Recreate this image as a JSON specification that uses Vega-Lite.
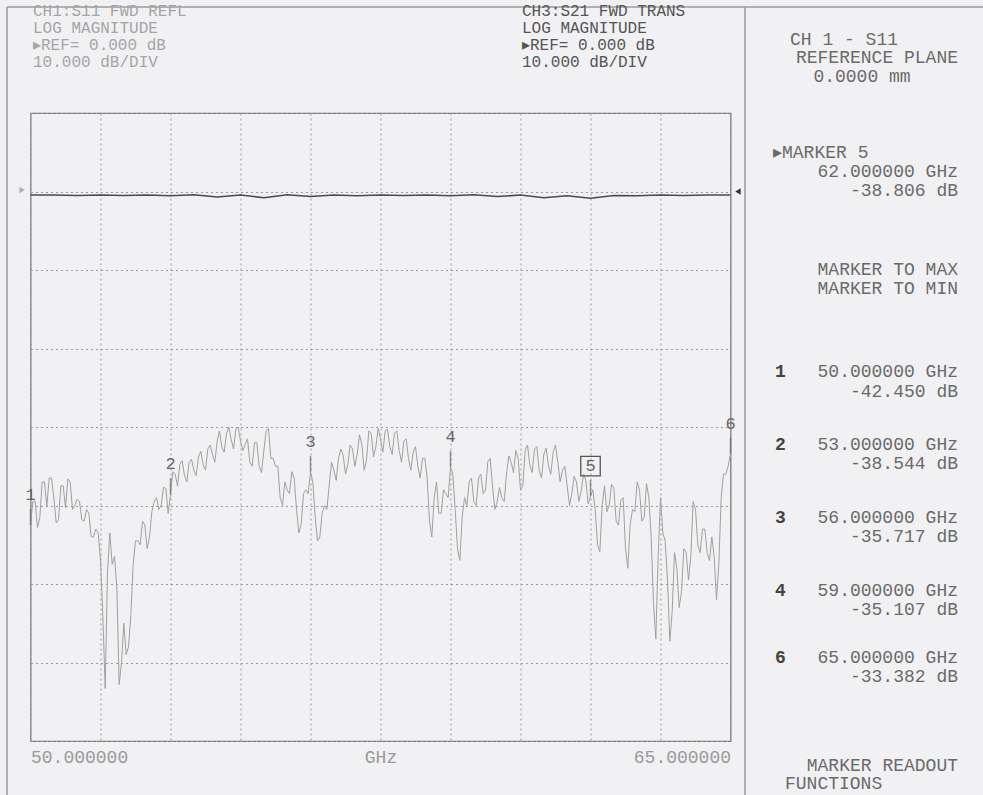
{
  "$schema": "https://vega.github.io/schema/vega-lite/v6.json",
  "width": 700,
  "height": 628,
  "autosize": {"type": "none"},
  "padding": {"left": 30.5, "top": 113, "right": 252.5, "bottom": 54},
  "background": "#f1f1f3",
  "config": {
    "view": {"stroke": "#777777", "strokeWidth": 1.2},
    "text": {"font": "Liberation Mono", "fontSize": 19}
  },
  "datasets": {
    "s11": [
      {"f":50.0,"db":-42.45},{"f":50.1,"db":-39.5},{"f":50.2,"db":-41.5},{"f":50.3,"db":-37.0},{"f":50.4,"db":-36.5},
      {"f":50.5,"db":-39.0},{"f":50.6,"db":-41.8},{"f":50.7,"db":-37.5},{"f":50.8,"db":-36.6},{"f":50.9,"db":-40.5},
      {"f":51.0,"db":-39.2},{"f":51.1,"db":-41.8},{"f":51.2,"db":-40.5},{"f":51.3,"db":-44.0},{"f":51.4,"db":-43.0},
      {"f":51.5,"db":-47.0},{"f":51.6,"db":-63.3},{"f":51.7,"db":-43.5},{"f":51.8,"db":-46.5},{"f":51.9,"db":-62.8},
      {"f":52.0,"db":-55.0},{"f":52.1,"db":-58.0},{"f":52.2,"db":-47.5},{"f":52.3,"db":-44.5},{"f":52.4,"db":-42.0},
      {"f":52.5,"db":-45.5},{"f":52.6,"db":-40.8},{"f":52.7,"db":-39.0},{"f":52.8,"db":-40.0},{"f":52.9,"db":-37.8},
      {"f":53.0,"db":-38.544},{"f":53.1,"db":-36.0},{"f":53.2,"db":-34.8},{"f":53.3,"db":-36.2},{"f":53.4,"db":-34.5},
      {"f":53.5,"db":-35.5},{"f":53.6,"db":-33.8},{"f":53.7,"db":-34.8},{"f":53.8,"db":-32.8},{"f":53.9,"db":-33.5},
      {"f":54.0,"db":-31.8},{"f":54.1,"db":-32.6},{"f":54.2,"db":-30.8},{"f":54.3,"db":-31.6},{"f":54.4,"db":-30.3},
      {"f":54.5,"db":-31.8},{"f":54.6,"db":-32.2},{"f":54.7,"db":-34.5},{"f":54.8,"db":-32.0},{"f":54.9,"db":-35.0},
      {"f":55.0,"db":-33.0},{"f":55.1,"db":-30.2},{"f":55.2,"db":-34.0},{"f":55.3,"db":-35.0},{"f":55.4,"db":-40.0},
      {"f":55.5,"db":-38.0},{"f":55.6,"db":-35.7},{"f":55.7,"db":-40.5},{"f":55.8,"db":-42.4},{"f":55.9,"db":-38.0},
      {"f":56.0,"db":-35.717},{"f":56.1,"db":-41.5},{"f":56.2,"db":-44.0},{"f":56.3,"db":-40.0},{"f":56.4,"db":-37.5},
      {"f":56.5,"db":-35.5},{"f":56.6,"db":-34.0},{"f":56.7,"db":-33.6},{"f":56.8,"db":-34.8},{"f":56.9,"db":-32.8},
      {"f":57.0,"db":-33.5},{"f":57.1,"db":-32.2},{"f":57.2,"db":-34.2},{"f":57.3,"db":-30.8},{"f":57.4,"db":-32.5},
      {"f":57.5,"db":-31.5},{"f":57.6,"db":-30.5},{"f":57.7,"db":-32.5},{"f":57.8,"db":-30.8},{"f":57.9,"db":-33.0},
      {"f":58.0,"db":-31.8},{"f":58.1,"db":-34.0},{"f":58.2,"db":-33.2},{"f":58.3,"db":-35.0},{"f":58.4,"db":-34.0},
      {"f":58.5,"db":-36.5},{"f":58.6,"db":-44.0},{"f":58.7,"db":-37.0},{"f":58.8,"db":-41.0},{"f":58.9,"db":-38.5},
      {"f":59.0,"db":-35.107},{"f":59.1,"db":-40.5},{"f":59.2,"db":-47.0},{"f":59.3,"db":-39.0},{"f":59.4,"db":-37.0},
      {"f":59.5,"db":-39.5},{"f":59.6,"db":-36.5},{"f":59.7,"db":-38.5},{"f":59.8,"db":-34.4},{"f":59.9,"db":-37.5},
      {"f":60.0,"db":-39.5},{"f":60.1,"db":-39.0},{"f":60.2,"db":-36.0},{"f":60.3,"db":-34.5},{"f":60.4,"db":-33.0},
      {"f":60.5,"db":-38.0},{"f":60.6,"db":-33.0},{"f":60.7,"db":-34.8},{"f":60.8,"db":-32.8},{"f":60.9,"db":-35.5},
      {"f":61.0,"db":-33.5},{"f":61.1,"db":-35.0},{"f":61.2,"db":-33.2},{"f":61.3,"db":-34.5},{"f":61.4,"db":-35.5},
      {"f":61.5,"db":-37.5},{"f":61.6,"db":-38.5},{"f":61.7,"db":-37.0},{"f":61.8,"db":-38.2},{"f":61.9,"db":-36.8},
      {"f":62.0,"db":-38.806},{"f":62.1,"db":-40.5},{"f":62.2,"db":-45.9},{"f":62.3,"db":-37.5},{"f":62.4,"db":-40.0},
      {"f":62.5,"db":-37.8},{"f":62.6,"db":-42.5},{"f":62.7,"db":-39.0},{"f":62.8,"db":-48.0},{"f":62.9,"db":-40.5},
      {"f":63.0,"db":-37.0},{"f":63.1,"db":-42.0},{"f":63.2,"db":-37.2},{"f":63.3,"db":-44.0},{"f":63.4,"db":-57.0},
      {"f":63.5,"db":-39.0},{"f":63.6,"db":-44.5},{"f":63.7,"db":-57.3},{"f":63.8,"db":-46.0},{"f":63.9,"db":-53.0},
      {"f":64.0,"db":-45.5},{"f":64.1,"db":-49.5},{"f":64.2,"db":-39.5},{"f":64.3,"db":-45.0},{"f":64.4,"db":-43.0},
      {"f":64.5,"db":-46.0},{"f":64.6,"db":-44.0},{"f":64.7,"db":-52.0},{"f":64.8,"db":-39.0},{"f":64.9,"db":-36.0},
      {"f":65.0,"db":-33.382},
      {"f":50.05,"db":-39.5},{"f":50.15,"db":-42.8},{"f":50.25,"db":-37.0},{"f":50.35,"db":-40.2},{"f":50.45,"db":-36.5},
      {"f":50.55,"db":-42.2},{"f":50.65,"db":-37.5},{"f":50.75,"db":-40.3},{"f":50.85,"db":-37.0},{"f":50.95,"db":-40.0},
      {"f":51.05,"db":-39.5},{"f":51.15,"db":-42.0},{"f":51.25,"db":-41.0},{"f":51.35,"db":-44.0},{"f":51.45,"db":-43.5},
      {"f":51.55,"db":-54.0},{"f":51.65,"db":-48.5},{"f":51.75,"db":-47.5},{"f":51.85,"db":-50.5},{"f":51.95,"db":-60.0},
      {"f":52.05,"db":-59.0},{"f":52.15,"db":-54.0},{"f":52.25,"db":-44.5},{"f":52.35,"db":-45.0},{"f":52.45,"db":-42.5},
      {"f":52.55,"db":-44.0},{"f":52.65,"db":-39.5},{"f":52.75,"db":-40.5},{"f":52.85,"db":-37.7},{"f":52.95,"db":-41.0},
      {"f":53.05,"db":-35.7},{"f":53.15,"db":-37.5},{"f":53.25,"db":-34.3},{"f":53.35,"db":-37.0},{"f":53.45,"db":-34.1},
      {"f":53.55,"db":-36.2},{"f":53.65,"db":-33.1},{"f":53.75,"db":-35.5},{"f":53.85,"db":-32.3},{"f":53.95,"db":-34.5},
      {"f":54.05,"db":-30.5},{"f":54.15,"db":-33.2},{"f":54.25,"db":-30.0},{"f":54.35,"db":-32.8},{"f":54.45,"db":-30.0},
      {"f":54.55,"db":-33.0},{"f":54.65,"db":-31.5},{"f":54.75,"db":-35.0},{"f":54.85,"db":-32.0},{"f":54.95,"db":-35.8},
      {"f":55.05,"db":-30.5},{"f":55.15,"db":-34.0},{"f":55.25,"db":-35.0},{"f":55.35,"db":-39.0},{"f":55.45,"db":-37.0},
      {"f":55.55,"db":-38.5},{"f":55.65,"db":-36.5},{"f":55.75,"db":-43.5},{"f":55.85,"db":-38.5},{"f":55.95,"db":-38.5},
      {"f":56.05,"db":-37.0},{"f":56.15,"db":-44.5},{"f":56.25,"db":-41.0},{"f":56.35,"db":-40.5},{"f":56.45,"db":-34.5},
      {"f":56.55,"db":-36.8},{"f":56.65,"db":-32.8},{"f":56.75,"db":-36.0},{"f":56.85,"db":-32.3},{"f":56.95,"db":-35.0},
      {"f":57.05,"db":-31.0},{"f":57.15,"db":-35.5},{"f":57.25,"db":-30.5},{"f":57.35,"db":-33.8},{"f":57.45,"db":-30.2},
      {"f":57.55,"db":-33.2},{"f":57.65,"db":-30.3},{"f":57.75,"db":-33.5},{"f":57.85,"db":-30.5},{"f":57.95,"db":-34.5},
      {"f":58.05,"db":-31.5},{"f":58.15,"db":-35.5},{"f":58.25,"db":-32.5},{"f":58.35,"db":-36.5},{"f":58.45,"db":-34.0},
      {"f":58.55,"db":-42.0},{"f":58.65,"db":-39.0},{"f":58.75,"db":-41.0},{"f":58.85,"db":-38.0},{"f":58.95,"db":-39.0},
      {"f":59.05,"db":-36.0},{"f":59.15,"db":-45.5},{"f":59.25,"db":-41.5},{"f":59.35,"db":-40.0},{"f":59.45,"db":-36.5},
      {"f":59.55,"db":-40.0},{"f":59.65,"db":-36.0},{"f":59.75,"db":-38.0},{"f":59.85,"db":-34.0},{"f":59.95,"db":-40.5},
      {"f":60.05,"db":-37.7},{"f":60.15,"db":-39.5},{"f":60.25,"db":-33.7},{"f":60.35,"db":-35.8},{"f":60.45,"db":-34.0},
      {"f":60.55,"db":-37.5},{"f":60.65,"db":-32.3},{"f":60.75,"db":-35.8},{"f":60.85,"db":-32.5},{"f":60.95,"db":-36.5},
      {"f":61.05,"db":-32.7},{"f":61.15,"db":-36.0},{"f":61.25,"db":-32.3},{"f":61.35,"db":-37.0},{"f":61.45,"db":-35.0},
      {"f":61.55,"db":-40.0},{"f":61.65,"db":-36.3},{"f":61.75,"db":-39.5},{"f":61.85,"db":-36.0},{"f":61.95,"db":-39.8},
      {"f":62.05,"db":-38.0},{"f":62.15,"db":-45.0},{"f":62.25,"db":-40.0},{"f":62.35,"db":-40.8},{"f":62.45,"db":-37.3},
      {"f":62.55,"db":-42.0},{"f":62.65,"db":-39.3},{"f":62.75,"db":-45.5},{"f":62.85,"db":-42.5},{"f":62.95,"db":-40.8},
      {"f":63.05,"db":-38.0},{"f":63.15,"db":-41.5},{"f":63.25,"db":-39.0},{"f":63.35,"db":-52.5},{"f":63.45,"db":-46.5},
      {"f":63.55,"db":-43.5},{"f":63.65,"db":-49.5},{"f":63.75,"db":-53.5},{"f":63.85,"db":-48.0},{"f":63.95,"db":-51.0},
      {"f":64.05,"db":-46.0},{"f":64.15,"db":-46.5},{"f":64.25,"db":-40.5},{"f":64.35,"db":-46.0},{"f":64.45,"db":-43.0},
      {"f":64.55,"db":-47.0},{"f":64.65,"db":-46.5},{"f":64.75,"db":-47.5},{"f":64.85,"db":-36.0},{"f":64.95,"db":-35.0}
    ],
    "s21": [
      {"f":50.0,"db":-0.45},{"f":50.5,"db":-0.45},{"f":51.0,"db":-0.5},{"f":51.5,"db":-0.45},{"f":52.0,"db":-0.5},
      {"f":52.5,"db":-0.45},{"f":53.0,"db":-0.55},{"f":53.5,"db":-0.4},{"f":54.0,"db":-0.7},{"f":54.5,"db":-0.45},
      {"f":55.0,"db":-0.8},{"f":55.5,"db":-0.4},{"f":56.0,"db":-0.65},{"f":56.5,"db":-0.45},{"f":57.0,"db":-0.55},
      {"f":57.5,"db":-0.45},{"f":58.0,"db":-0.5},{"f":58.5,"db":-0.45},{"f":59.0,"db":-0.55},{"f":59.5,"db":-0.4},
      {"f":60.0,"db":-0.65},{"f":60.5,"db":-0.45},{"f":61.0,"db":-0.8},{"f":61.5,"db":-0.55},{"f":62.0,"db":-0.85},
      {"f":62.5,"db":-0.5},{"f":63.0,"db":-0.55},{"f":63.5,"db":-0.45},{"f":64.0,"db":-0.5},{"f":64.5,"db":-0.45},
      {"f":65.0,"db":-0.45}
    ],
    "markers": [
      {"f":50,"db":-42.45,"t":"1"},{"f":53,"db":-38.544,"t":"2"},{"f":56,"db":-35.717,"t":"3"},
      {"f":59,"db":-35.107,"t":"4"},{"f":62,"db":-38.806,"t":"5"},{"f":65,"db":-33.382,"t":"6"}
    ],
    "active": [{"f":62,"db":-38.806,"t":"5"}],
    "frame": [
      {"f":49.496,"f2":70.5,"db":23.5,"db2":23.5},
      {"f":49.496,"f2":49.496,"db":23.5,"db2":-78},
      {"f":65.311,"f2":65.311,"db":23.5,"db2":-78}
    ],
    "ch1": [
      {"f":50.054,"db":23.0,"t":"CH1:S11 FWD REFL"},
      {"f":50.054,"db":20.83,"t":"LOG MAGNITUDE"},
      {"f":50.054,"db":18.66,"t":"▸REF= 0.000 dB"},
      {"f":50.054,"db":16.49,"t":"10.000 dB/DIV"}
    ],
    "ch3": [
      {"f":60.532,"db":23.0,"t":"CH3:S21 FWD TRANS"},
      {"f":60.532,"db":20.83,"t":"LOG MAGNITUDE"},
      {"f":60.532,"db":18.66,"t":"▸REF= 0.000 dB"},
      {"f":60.532,"db":16.49,"t":"10.000 dB/DIV"}
    ],
    "panelLeft": [
      {"f":66.275,"db":19.30,"t":"CH 1 - S11"},
      {"f":65.911,"db":4.90,"t":"▸MARKER 5"},
      {"f":66.168,"db":-75.48,"t":"FUNCTIONS"}
    ],
    "panelCenter": [
      {"f":67.818,"db":14.59,"t":"0.0000 mm"}
    ],
    "panelRight": [
      {"f":69.875,"db":17.01,"t":"REFERENCE PLANE"},
      {"f":69.875,"db":2.48,"t":"62.000000 GHz"},
      {"f":69.875,"db":0.06,"t":"-38.806 dB"},
      {"f":69.875,"db":-10.0,"t":"MARKER TO MAX"},
      {"f":69.875,"db":-12.42,"t":"MARKER TO MIN"},
      {"f":69.875,"db":-22.99,"t":"50.000000 GHz"},
      {"f":69.875,"db":-25.54,"t":"-42.450 dB"},
      {"f":69.875,"db":-32.29,"t":"53.000000 GHz"},
      {"f":69.875,"db":-34.71,"t":"-38.544 dB"},
      {"f":69.875,"db":-41.59,"t":"56.000000 GHz"},
      {"f":69.875,"db":-44.01,"t":"-35.717 dB"},
      {"f":69.875,"db":-50.89,"t":"59.000000 GHz"},
      {"f":69.875,"db":-53.31,"t":"-35.107 dB"},
      {"f":69.875,"db":-59.43,"t":"65.000000 GHz"},
      {"f":69.875,"db":-61.85,"t":"-33.382 dB"},
      {"f":69.875,"db":-73.18,"t":"MARKER READOUT"}
    ],
    "panelNums": [
      {"f":65.954,"db":-22.99,"t":"1"},
      {"f":65.954,"db":-32.29,"t":"2"},
      {"f":65.954,"db":-41.59,"t":"3"},
      {"f":65.954,"db":-50.89,"t":"4"},
      {"f":65.954,"db":-59.43,"t":"6"}
    ],
    "refLeft": [{"f":49.82,"db":0.19}],
    "refRight": [{"f":65.16,"db":0.0}]
  },
  "encoding": {
    "x": {
      "field": "f", "type": "quantitative",
      "scale": {"domain": [50, 65], "nice": false, "zero": false},
      "axis": {
        "title": null,
        "values": [50, 51.5, 53, 54.5, 56, 57.5, 59, 60.5, 62, 63.5, 65],
        "grid": true, "gridColor": "#9a9a9a", "gridDash": [2, 3], "gridWidth": 1,
        "ticks": false, "domain": false,
        "labelExpr": "datum.value == 50 ? '50.000000' : (datum.value == 57.5 ? 'GHz' : (datum.value == 65 ? '65.000000' : ''))",
        "labelFlush": true, "labelOverlap": false,
        "labelFont": "Liberation Mono", "labelFontSize": 18, "labelColor": "#9a9a9a",
        "labelPadding": 7
      }
    },
    "y": {
      "field": "db", "type": "quantitative",
      "scale": {"domain": [-70, 10], "nice": false, "zero": false},
      "axis": {
        "title": null,
        "values": [-70, -60, -50, -40, -30, -20, -10, 0, 10],
        "grid": true, "gridColor": "#9a9a9a", "gridDash": [2, 3], "gridWidth": 1,
        "ticks": false, "domain": false, "labels": false
      }
    }
  },
  "layer": [
    {"data": {"name": "frame"}, "mark": {"type": "rule", "color": "#9a9a9a", "strokeWidth": 1.5, "clip": false},
     "encoding": {"x2": {"field": "f2"}, "y2": {"field": "db2"}}},
    {"data": {"name": "s11"}, "mark": {"type": "line", "color": "#a0a0a0", "strokeWidth": 1}},
    {"data": {"name": "s21"}, "mark": {"type": "line", "color": "#4a4a4a", "strokeWidth": 1.5}},
    {"data": {"name": "markers"}, "mark": {"type": "tick", "orient": "vertical", "color": "#666666", "size": 16, "thickness": 1.5, "yOffset": -8}},
    {"data": {"name": "markers"}, "mark": {"type": "text", "color": "#666666", "fontSize": 17, "dy": -30, "baseline": "middle"},
     "encoding": {"text": {"field": "t"}}},
    {"data": {"name": "active"}, "mark": {"type": "point", "shape": "square", "filled": false, "size": 380, "color": "#555555", "strokeWidth": 1.3, "yOffset": -30, "opacity": 1}},
    {"data": {"name": "ch1"}, "mark": {"type": "text", "align": "left", "baseline": "middle", "color": "#a5a5a5", "fontSize": 16},
     "encoding": {"text": {"field": "t"}}},
    {"data": {"name": "ch3"}, "mark": {"type": "text", "align": "left", "baseline": "middle", "color": "#555555", "fontSize": 16},
     "encoding": {"text": {"field": "t"}}},
    {"data": {"name": "panelLeft"}, "mark": {"type": "text", "align": "left", "baseline": "middle", "color": "#6a6a6a", "fontSize": 18},
     "encoding": {"text": {"field": "t"}}},
    {"data": {"name": "panelCenter"}, "mark": {"type": "text", "align": "center", "baseline": "middle", "color": "#6a6a6a", "fontSize": 18},
     "encoding": {"text": {"field": "t"}}},
    {"data": {"name": "panelRight"}, "mark": {"type": "text", "align": "right", "baseline": "middle", "color": "#6a6a6a", "fontSize": 18},
     "encoding": {"text": {"field": "t"}}},
    {"data": {"name": "panelNums"}, "mark": {"type": "text", "align": "left", "baseline": "middle", "color": "#444444", "fontWeight": "bold", "fontSize": 18},
     "encoding": {"text": {"field": "t"}}},
    {"data": {"name": "refLeft"}, "mark": {"type": "point", "shape": "triangle-right", "filled": true, "size": 40, "color": "#b0b0b0", "clip": false, "opacity": 1}},
    {"data": {"name": "refRight"}, "mark": {"type": "point", "shape": "triangle-left", "filled": true, "size": 40, "color": "#333333", "clip": false, "opacity": 1}}
  ]
}
